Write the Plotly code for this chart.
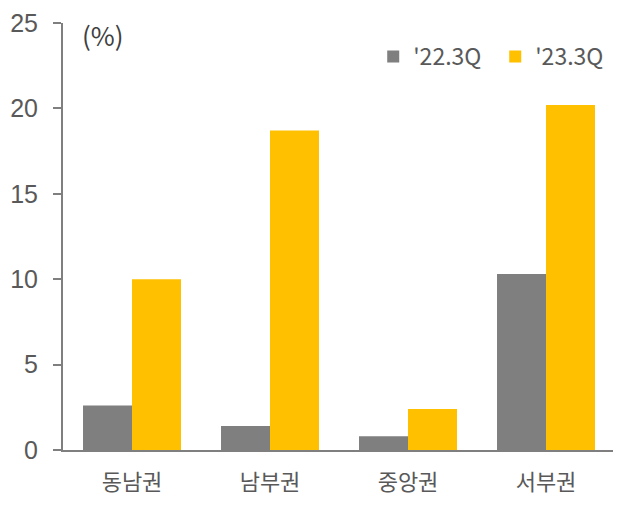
import plotly.graph_objects as go

categories = ["동남권", "남부권", "중앙권", "서부권"]
series_names = ["'22.3Q", "'23.3Q"]
values_22 = [2.6, 1.4, 0.8, 10.3]
values_23 = [10.0, 18.7, 2.4, 20.2]
y_ticks = [0, 5, 10, 15, 20, 25]

GRAY = "#7f7f7f"
YELLOW = "#FFC000"
TEXT = "#595959"
FONT = "Noto Sans CJK KR"

fig = go.Figure()
fig.add_trace(go.Bar(x=categories, y=values_22, name=series_names[0],
                     marker=dict(color=GRAY, line=dict(width=0))))
fig.add_trace(go.Bar(x=categories, y=values_23, name=series_names[1],
                     marker=dict(color=YELLOW, line=dict(width=0))))

fig.update_layout(
    width=613, height=503,
    margin=dict(l=55, r=6, t=15, b=61, autoexpand=False),
    paper_bgcolor="white", plot_bgcolor="white",
    barmode="group", bargap=0.29, bargroupgap=0,
    font=dict(family=FONT, color=TEXT, size=21),
    showlegend=True,
    legend=dict(orientation="h", x=0.562, xanchor="left", y=0.972, yanchor="top",
                font=dict(size=23, color=TEXT), itemwidth=30,
                entrywidth=77, entrywidthmode="pixels",
                bgcolor="rgba(0,0,0,0)", traceorder="normal"),
    annotations=[dict(text="(%)", x=0.03, y=0.974, xref="paper", yref="paper",
                      xanchor="left", yanchor="middle", showarrow=False,
                      font=dict(size=26, color="#404040", family=FONT))],
)
fig.update_xaxes(showline=True, linecolor=GRAY, linewidth=2, ticks="",
                 tickfont=dict(size=22, color=TEXT, family=FONT),
                 ticklabelstandoff=12, automargin=False,
                 showgrid=False, zeroline=False)
fig.update_yaxes(range=[0, 25], tickvals=y_ticks, showline=True, linecolor=GRAY,
                 linewidth=2, ticks="outside", ticklen=8, tickcolor=GRAY, tickwidth=2,
                 tickfont=dict(size=25, color=TEXT, family="Liberation Sans"),
                 ticklabelstandoff=10, automargin=False, ticklabeloverflow="allow",
                 showgrid=False, zeroline=False)

fig.write_html("out.html")
